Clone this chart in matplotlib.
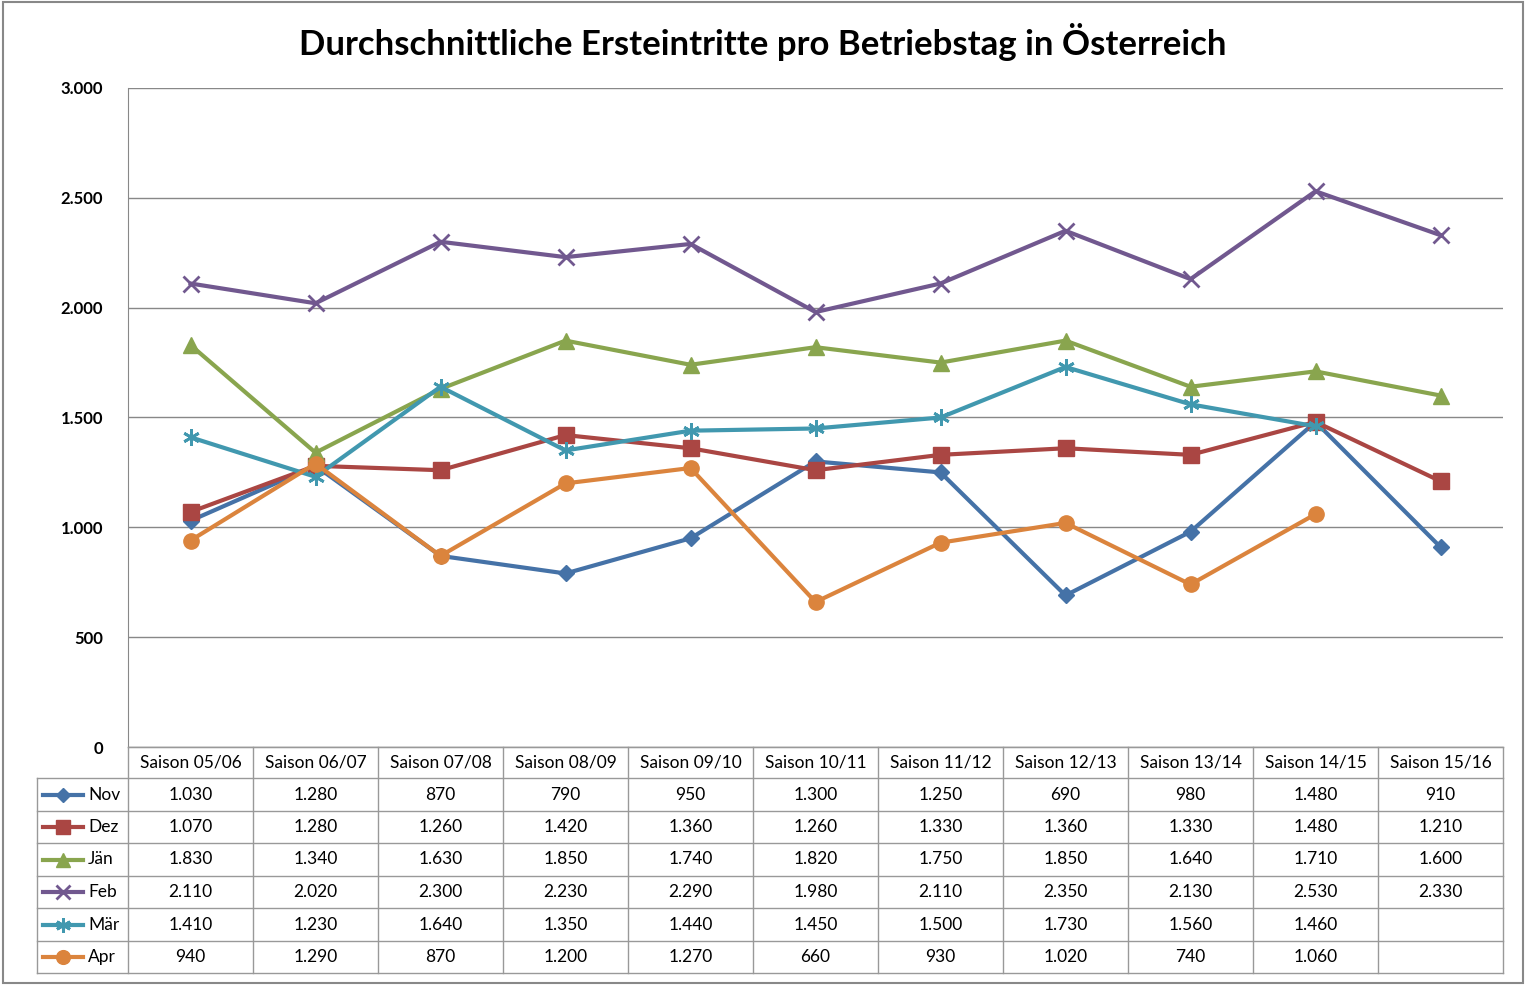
import matplotlib
matplotlib.use("Agg")
import matplotlib.pyplot as plt
from matplotlib.patches import Rectangle
import numpy as np

plt.rcParams['font.family'] = ['Lato', 'DejaVu Sans']

seasons = ["Saison 05/06", "Saison 06/07", "Saison 07/08", "Saison 08/09", "Saison 09/10",
           "Saison 10/11", "Saison 11/12", "Saison 12/13", "Saison 13/14", "Saison 14/15",
           "Saison 15/16"]
nov = [1030, 1280, 870, 790, 950, 1300, 1250, 690, 980, 1480, 910]
dez = [1070, 1280, 1260, 1420, 1360, 1260, 1330, 1360, 1330, 1480, 1210]
jan = [1830, 1340, 1630, 1850, 1740, 1820, 1750, 1850, 1640, 1710, 1600]
feb = [2110, 2020, 2300, 2230, 2290, 1980, 2110, 2350, 2130, 2530, 2330]
mar = [1410, 1230, 1640, 1350, 1440, 1450, 1500, 1730, 1560, 1460, None]
apr = [940, 1290, 870, 1200, 1270, 660, 930, 1020, 740, 1060, None]

names = ["Nov", "Dez", "Jän", "Feb", "Mär", "Apr"]
series = [nov, dez, jan, feb, mar, apr]
colors = ["#4572A7", "#AA4643", "#89A54E", "#71588F", "#4198AF", "#DB843D"]
markers = ["D", "s", "^", "x", (6, 2, 0), "o"]
msizes = [8, 11, 11, 11, 12, 11]

def fmt(v):
    return "" if v is None else f"{v:,}".replace(",", ".")

W, H = 1526, 985
fig = plt.figure(figsize=(W / 100, H / 100), dpi=100)
fig.patches.append(Rectangle((0.002, 0.002), 0.996, 0.996, transform=fig.transFigure,
                             fill=False, edgecolor="#888888", lw=1.5))

L, R, T, B = 128, 1503, 88, 747
ax = fig.add_axes([L / W, 1 - B / H, (R - L) / W, (B - T) / H])
x = np.arange(len(seasons))
for name, s, c, m, ms in zip(names, series, colors, markers, msizes):
    y = [np.nan if v is None else v for v in s]
    mew = 2 if m in ("x",) or isinstance(m, tuple) else 1
    ax.plot(x, y, color=c, lw=3, marker=m, ms=ms, mew=mew, mec=c, mfc=c)
ax.set_xlim(-0.5, len(seasons) - 0.5)
ax.set_ylim(0, 3000)
ax.set_yticks(range(0, 3001, 500))
ax.set_yticklabels([fmt(v) for v in range(0, 3001, 500)], fontweight="bold", fontsize=12)
ax.tick_params(axis="y", length=0, pad=18)
ax.set_xticks([])
ax.grid(axis="y", color="#888888", lw=1)
for sp in ["top", "right"]:
    ax.spines[sp].set_visible(False)
ax.spines["left"].set_color("#888888")
ax.spines["bottom"].set_color("#888888")

fig.text(0.5, 1 - 42 / H, "Durchschnittliche Ersteintritte pro Betriebstag in Österreich",
         ha="center", va="center", fontsize=25, fontweight="bold")

# data table below the plot
tx = fig.add_axes([0, 0, 1, 1])
tx.set_xlim(0, W)
tx.set_ylim(H, 0)
tx.axis("off")
rows = [747, 778, 811, 843, 876, 908, 941, 973]
colw = (R - L) / len(seasons)
lc = "#999999"
for i in range(len(seasons) + 1):
    xx = L + i * colw
    tx.plot([xx, xx], [rows[0], rows[-1]], color=lc, lw=1)
tx.plot([37, 37], [rows[1], rows[-1]], color=lc, lw=1)
tx.plot([L, R], [rows[0], rows[0]], color=lc, lw=1)
for r in rows[1:]:
    tx.plot([37, R], [r, r], color=lc, lw=1)
for i, s in enumerate(seasons):
    tx.text(L + (i + 0.5) * colw, (rows[0] + rows[1]) / 2, s, ha="center", va="center", fontsize=12.5)
for j, (name, s, c, m, ms) in enumerate(zip(names, series, colors, markers, msizes)):
    yc = (rows[j + 1] + rows[j + 2]) / 2
    tx.plot([43, 83], [yc, yc], color=c, lw=3)
    tx.plot([63], [yc], marker=m, color=c, ms=ms * 0.9, mew=2 if m == "x" or isinstance(m, tuple) else 1)
    tx.text(88, yc, name, ha="left", va="center", fontsize=12.5)
    for i, v in enumerate(s):
        tx.text(L + (i + 0.5) * colw, yc, fmt(v), ha="center", va="center", fontsize=12.5)

fig.savefig("out.png", dpi=100)
